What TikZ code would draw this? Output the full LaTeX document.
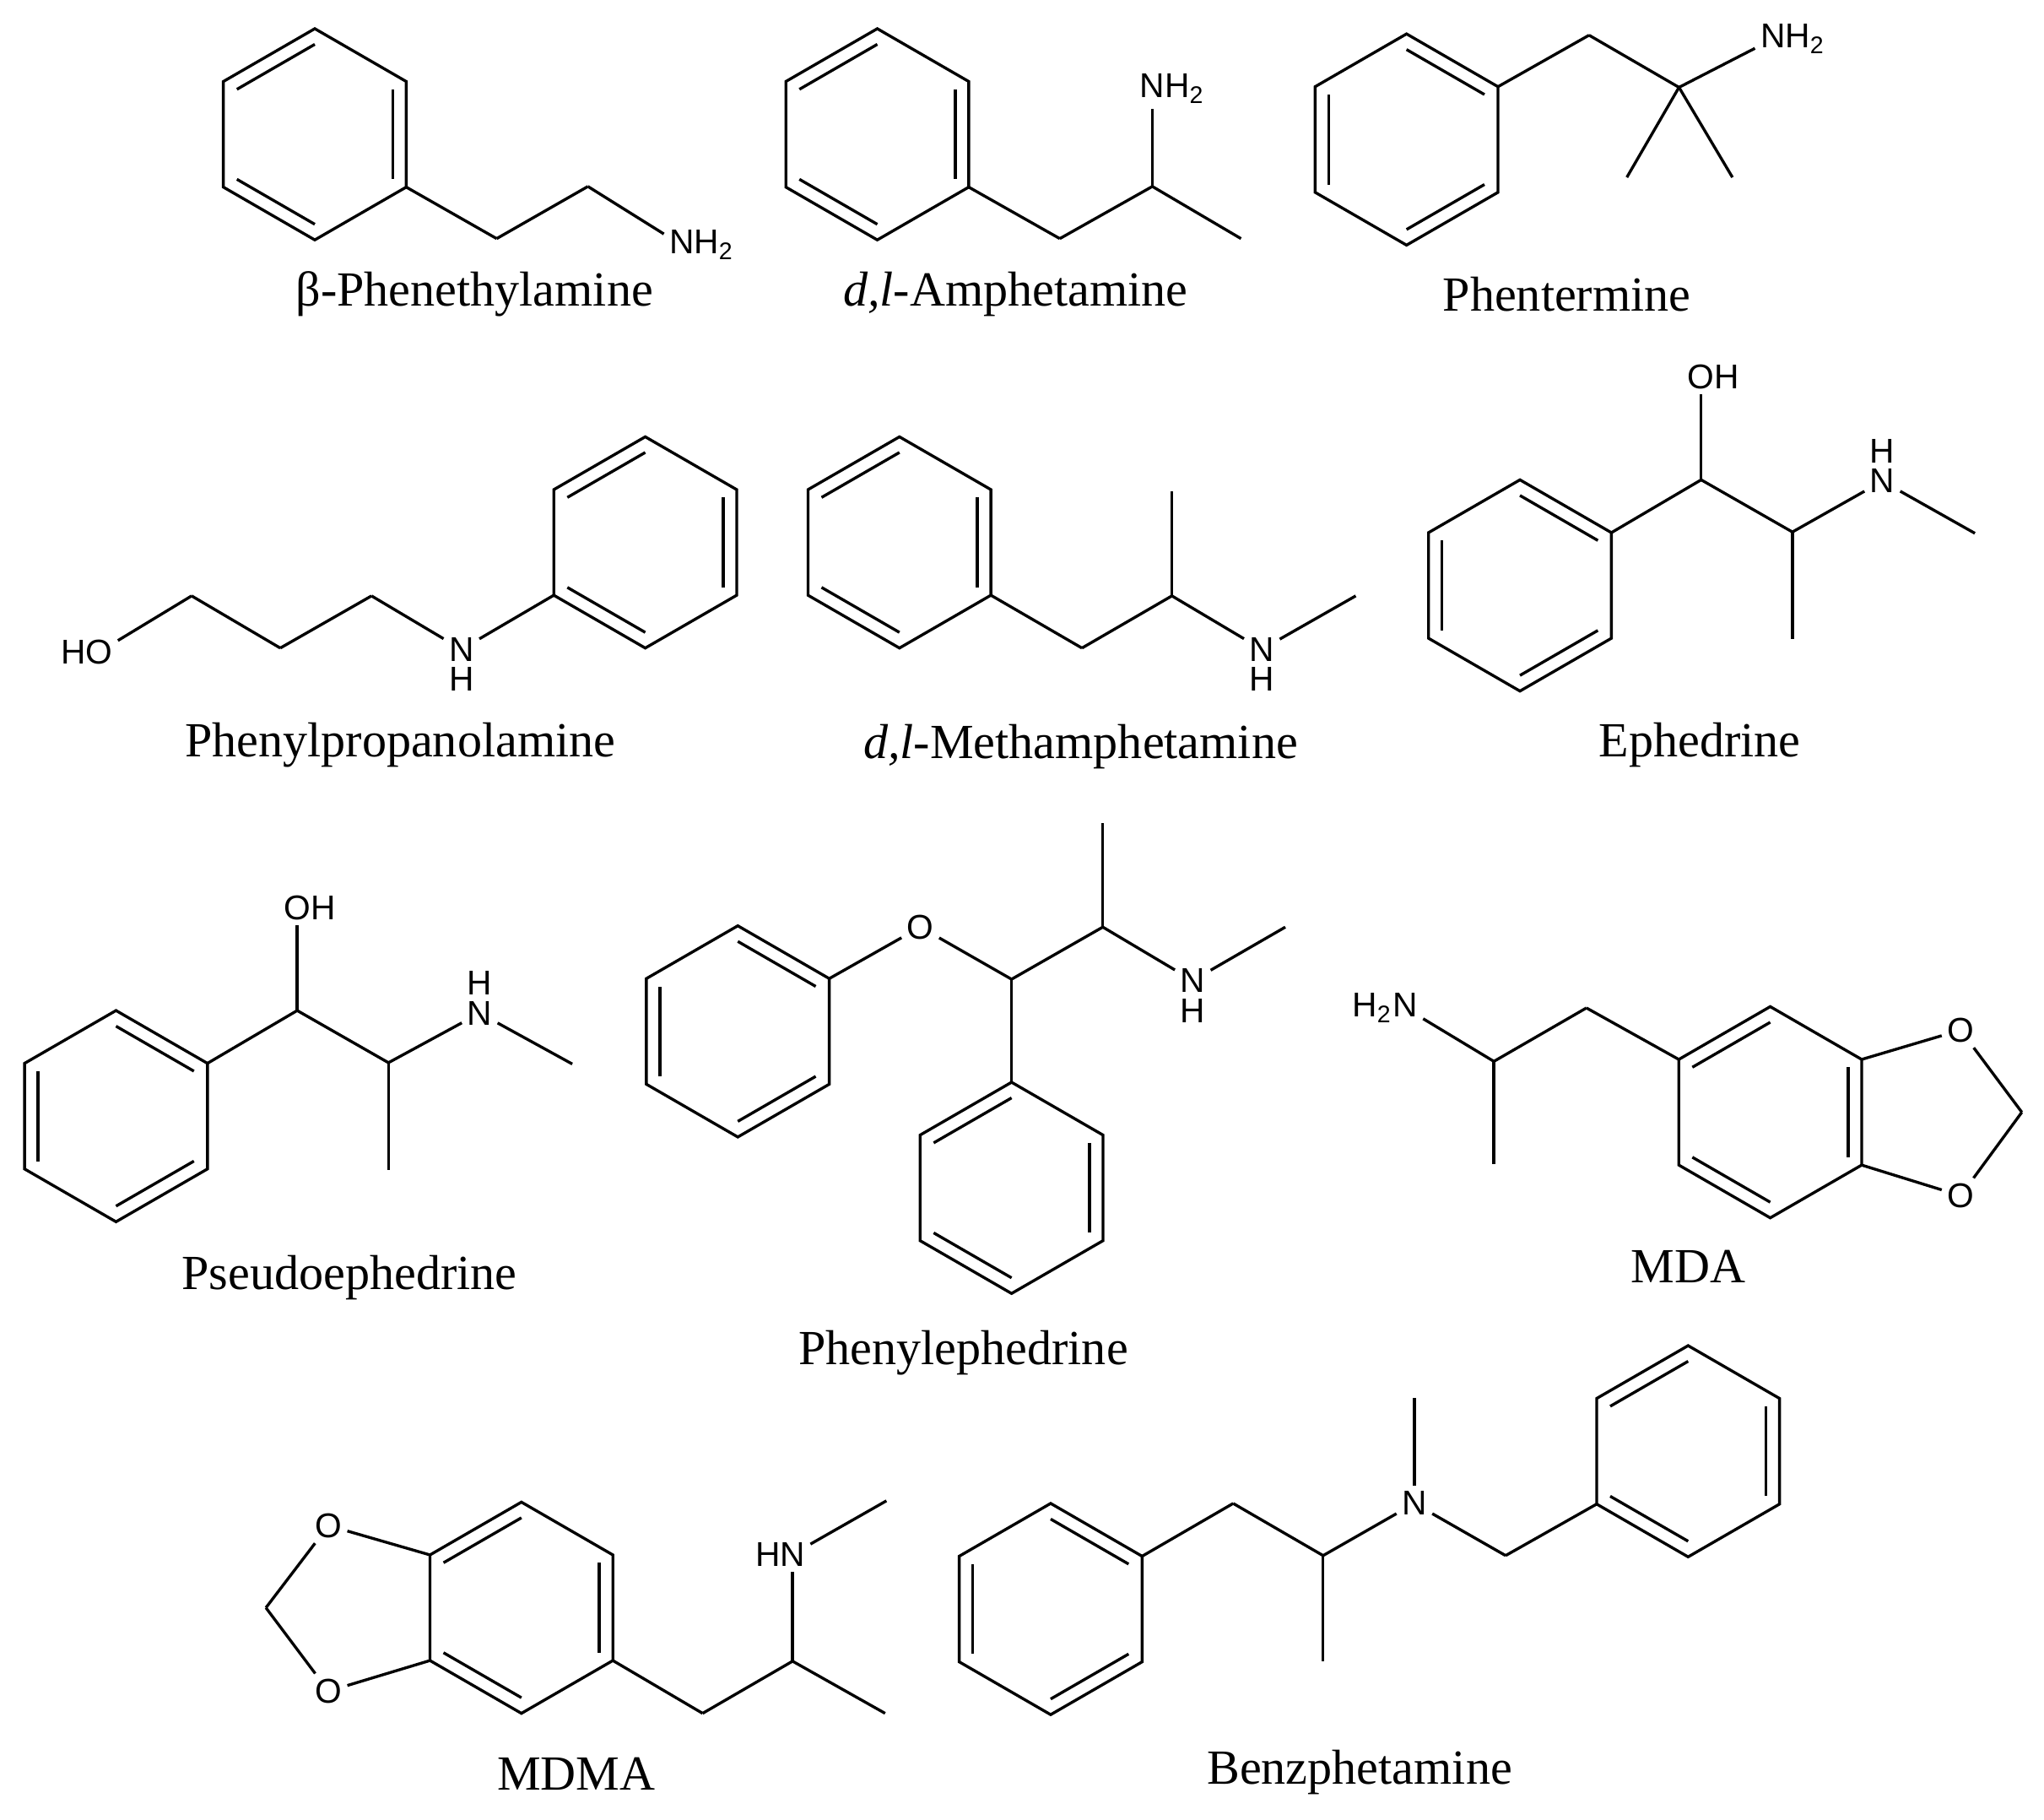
\documentclass[tikz,border=0pt]{standalone}
\usepackage{fontspec}
\setmainfont{Liberation Serif}
\setsansfont{Liberation Sans}
\usetikzlibrary{calc,positioning}

\newcommand{\phenyl}[4]{
  \coordinate (#1c) at (#2,#3);
  \foreach \k/\ang in {1/-90,2/-30,3/30,4/90,5/150,6/210}{
    \coordinate (#1\k) at ($(#1c)+(\ang:81)$);
    \coordinate (#1i\k) at ($(#1c)+(\ang:69)$);
  }
  \draw[bond] (#11) -- (#12) -- (#13) -- (#14) -- (#15) -- (#16) -- cycle;
  \foreach \a/\b in {#4}{\draw[bond] (#1i\a) to (#1i\b);}
}
\newcommand{\ringA}[3]{\phenyl{#1}{#2}{#3}{6/1,2/3,4/5}}
\newcommand{\ringB}[3]{\phenyl{#1}{#2}{#3}{1/2,3/4,5/6}}

\begin{document}
\begin{tikzpicture}[x=0.01cm,y=-0.01cm,
    bond/.style ={line width=0.62pt,line join=miter},
    atom/.style ={font=\fontsize{7.5}{9}\sffamily,inner sep=1pt},
    caption/.style ={font=\fontsize{10.7}{13}\rmfamily,anchor=base,inner sep=0pt,yshift=-0.45pt}]
   \useasboundingbox (0,0) rectangle (1568,1395.8);

   % beta-phenethylamine
   \ringA{pa}{241.5}{103}
   \coordinate (pa7) at (381,183);
   \coordinate (pa8) at (451,143);
   \node[atom] (paN) at (523,188) {N\rlap{H\textsubscript{2}}};
   \draw[bond] (pa3) to (pa7);
   \draw[bond] (pa7) to (pa8);
   \draw[bond] (pa8) to (paN);
   \node[caption] (paT) at (364,233) {β-Phenethylamine};

   % amphetamine
   \ringA{am}{673}{103}
   \coordinate (am7) at (813,183);
   \coordinate (am8) at (884,143);
   \coordinate (am9) at (952,183);
   \node[atom] (amN) at (884,68) {N\rlap{H\textsubscript{2}}};
   \draw[bond] (am3) to (am7);
   \draw[bond] (am7) to (am8);
   \draw[bond] (am8) to (am9);
   \draw[bond] (am8) to (amN);
   \node[caption] (amT) at (779,233) {\textit{d,l}-Amphetamine};

   % phentermine
   \ringB{pt}{1079}{107}
   \coordinate (pt7) at (1219,27);
   \coordinate (pt8) at (1288,67);
   \coordinate (pt9) at (1248,136);
   \coordinate (pt10) at (1329,136);
   \node[atom] (ptN) at (1360,30) {N\rlap{H\textsubscript{2}}};
   \draw[bond] (pt2) to (pt7);
   \draw[bond] (pt7) to (pt8);
   \draw[bond] (pt8) to (pt9);
   \draw[bond] (pt8) to (pt10);
   \draw[bond] (pt8) to (ptN);
   \node[caption] (ptT) at (1202,237) {Phentermine};

   % phenylpropanolamine
   \ringA{pp}{495}{416}
   \node[atom] (ppO) at (76,500) {\llap{H}O};
   \coordinate (pp7) at (147,457);
   \coordinate (pp8) at (215,497);
   \coordinate (pp9) at (285,457);
   \node[atom] (ppN) at (354,498) {N};
   \node[atom] (ppH) [below=-1pt of ppN] {H};
   \draw[bond] (ppO) to (pp7);
   \draw[bond] (pp7) to (pp8);
   \draw[bond] (pp8) to (pp9);
   \draw[bond] (pp9) to (ppN);
   \draw[bond] (ppN) to (pp5);
   \node[caption] (ppT) at (307,579) {Phenylpropanolamine};

   % methamphetamine
   \ringA{ma}{690}{416}
   \coordinate (ma7) at (830,497);
   \coordinate (ma8) at (899,457);
   \coordinate (ma9) at (899,377);
   \node[atom] (maN) at (968,498) {N};
   \node[atom] (maH) [below=-1pt of maN] {H};
   \coordinate (ma10) at (1040,457);
   \draw[bond] (ma3) to (ma7);
   \draw[bond] (ma7) to (ma8);
   \draw[bond] (ma8) to (ma9);
   \draw[bond] (ma8) to (maN);
   \draw[bond] (maN) to (ma10);
   \node[caption] (maT) at (829,580) {\textit{d,l}-Methamphetamine};

   % ephedrine
   \ringB{ep}{1166}{449}
   \coordinate (ep7) at (1305,368);
   \coordinate (ep8) at (1375,408);
   \coordinate (ep9) at (1375,490);
   \node[atom] (epO) at (1305,289) {O\rlap{H}};
   \node[atom] (epN) at (1444,369) {N};
   \node[atom] (epH) [above=-1pt of epN] {H};
   \coordinate (ep10) at (1515,409);
   \draw[bond] (ep2) to (ep7);
   \draw[bond] (ep7) to (epO);
   \draw[bond] (ep7) to (ep8);
   \draw[bond] (ep8) to (ep9);
   \draw[bond] (ep8) to (epN);
   \draw[bond] (epN) to (ep10);
   \node[caption] (epT) at (1304,579) {Ephedrine};

   % pseudoephedrine
   \ringB{ps}{89}{856}
   \coordinate (ps7) at (228,775);
   \coordinate (ps8) at (298,815);
   \coordinate (ps9) at (298,897);
   \node[atom] (psO) at (228,696) {O\rlap{H}};
   \node[atom] (psN) at (368,777) {N};
   \node[atom] (psH) [above=-1pt of psN] {H};
   \coordinate (ps10) at (439,816);
   \draw[bond] (ps2) to (ps7);
   \draw[bond] (ps7) to (psO);
   \draw[bond] (ps7) to (ps8);
   \draw[bond] (ps8) to (ps9);
   \draw[bond] (ps8) to (psN);
   \draw[bond] (psN) to (ps10);
   \node[caption] (psT) at (268,987) {Pseudoephedrine};

   % phenylephedrine
   \ringB{pe}{566}{791}
   \ringA{pf}{776}{911}
   \node[atom] (peO) at (706,711) {O};
   \coordinate (pe7) at (776,751);
   \coordinate (pe8) at (846,711);
   \coordinate (pe9) at (846,631);
   \node[atom] (peN) at (915,752) {N};
   \node[atom] (peH) [below=-1pt of peN] {H};
   \coordinate (pe10) at (986,711);
   \draw[bond] (pe2) to (peO);
   \draw[bond] (peO) to (pe7);
   \draw[bond] (pe7) to (pe8);
   \draw[bond] (pe7) to (pf1);
   \draw[bond] (pe8) to (pe9);
   \draw[bond] (pe8) to (peN);
   \draw[bond] (peN) to (pe10);
   \node[caption] (peT) at (739,1045) {Phenylephedrine};

   % MDA
   \ringA{da}{1358}{853}
   \node[atom] (daN) at (1078,773) {\llap{H\textsubscript{2}}N};
   \coordinate (da7) at (1146,814);
   \coordinate (da8) at (1146,893);
   \coordinate (da9) at (1217,773);
   \node[atom] (daO) at (1504,790) {O};
   \node[atom] (daP) at (1504,917) {O};
   \coordinate (da10) at (1551,853);
   \draw[bond] (daN) to (da7);
   \draw[bond] (da7) to (da8);
   \draw[bond] (da7) to (da9);
   \draw[bond] (da9) to (da6);
   \draw[bond] (da2) to (daO);
   \draw[bond] (da3) to (daP);
   \draw[bond] (daO) to (da10);
   \draw[bond] (daP) to (da10);
   \node[caption] (daT) at (1295,982) {MDA};

   % MDMA
   \ringA{dm}{400}{1233}
   \node[atom] (dmO) at (252,1170) {O};
   \node[atom] (dmP) at (252,1297) {O};
   \coordinate (dm7) at (204,1233);
   \coordinate (dm8) at (539,1314);
   \coordinate (dm9) at (608,1274);
   \coordinate (dm10) at (679,1314);
   \node[atom] (dmN) at (608,1192) {\llap{H}N};
   \coordinate (dm11) at (680,1151);
   \draw[bond] (dm6) to (dmO);
   \draw[bond] (dm5) to (dmP);
   \draw[bond] (dmO) to (dm7);
   \draw[bond] (dmP) to (dm7);
   \draw[bond] (dm3) to (dm8);
   \draw[bond] (dm8) to (dm9);
   \draw[bond] (dm9) to (dm10);
   \draw[bond] (dm9) to (dmN);
   \draw[bond] (dmN) to (dm11);
   \node[caption] (dmT) at (442,1371) {MDMA};

   % benzphetamine
   \ringB{bz}{806}{1234}
   \ringA{bw}{1295}{1113}
   \coordinate (bz7) at (946,1153);
   \coordinate (bz8) at (1015,1193);
   \coordinate (bz9) at (1015,1274);
   \node[atom] (bzN) at (1085,1153) {N};
   \coordinate (bz10) at (1085,1072);
   \coordinate (bz11) at (1155,1193);
   \draw[bond] (bz2) to (bz7);
   \draw[bond] (bz7) to (bz8);
   \draw[bond] (bz8) to (bz9);
   \draw[bond] (bz8) to (bzN);
   \draw[bond] (bzN) to (bz10);
   \draw[bond] (bzN) to (bz11);
   \draw[bond] (bz11) to (bw5);
   \node[caption] (bzT) at (1043,1367) {Benzphetamine};
\end{tikzpicture}
\end{document}
